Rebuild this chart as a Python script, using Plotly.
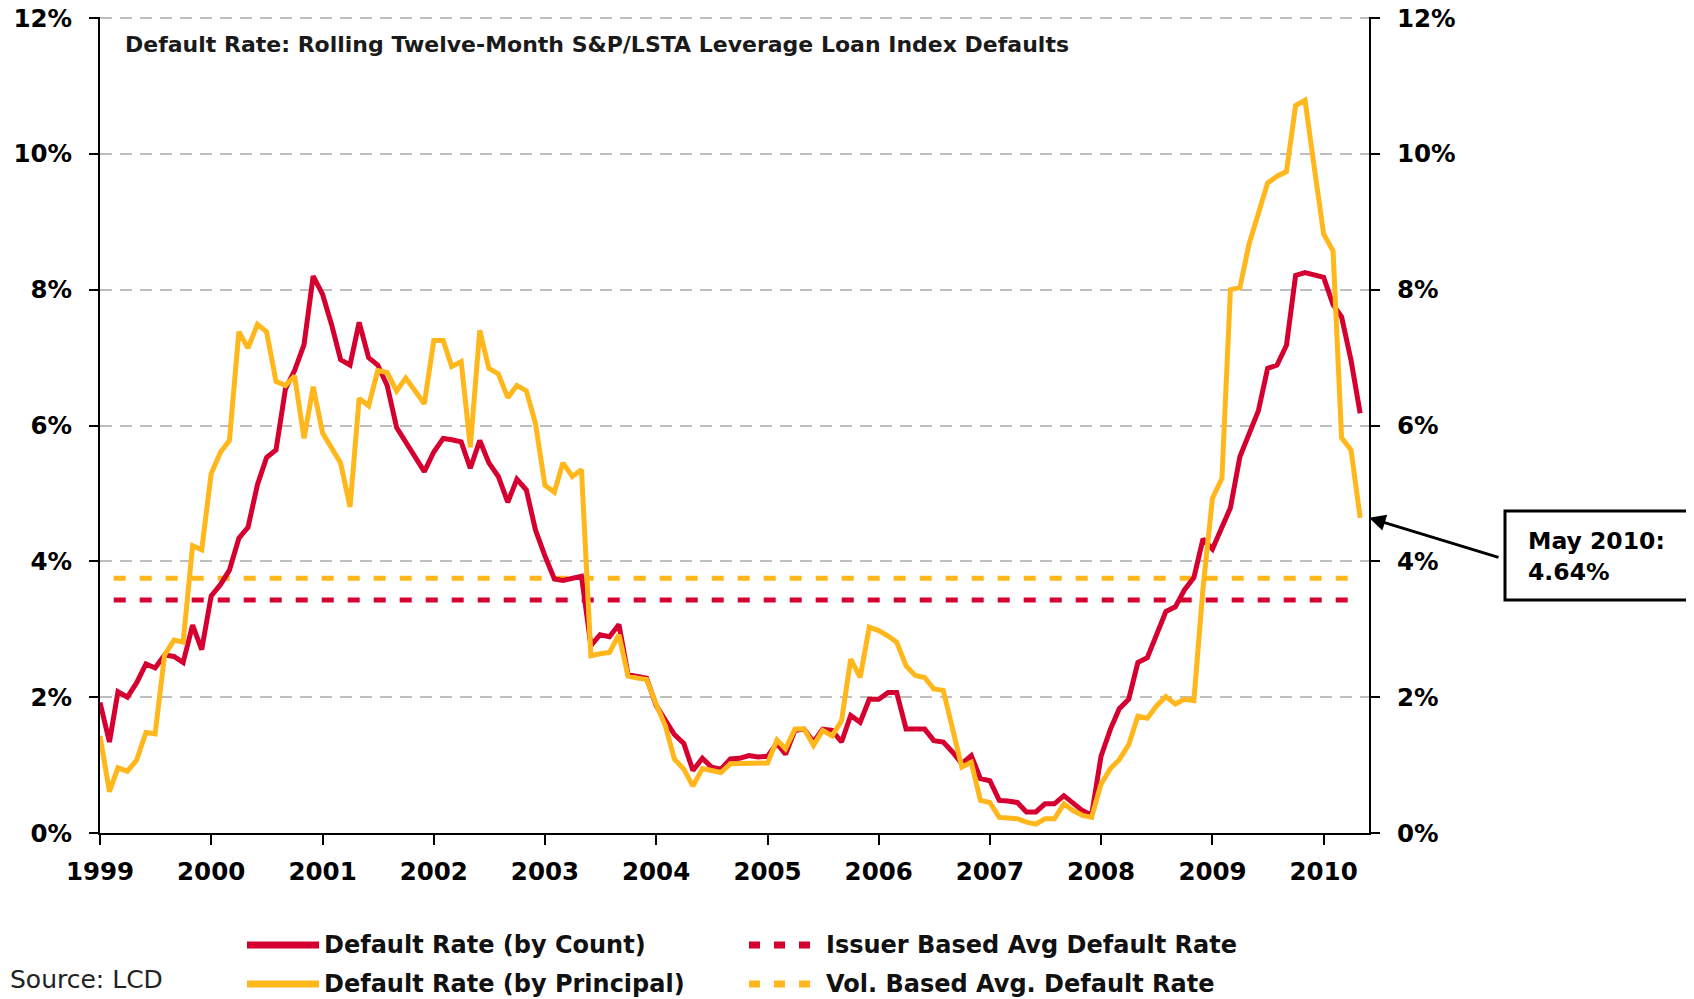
import pandas as pd
import plotly.graph_objects as go

# === Data: rolling 12-month default rates, Jan 1999 - May 2010 (%) ===
by_count = [
    1.92, 1.34, 2.08, 2.00, 2.21, 2.49, 2.43, 2.62, 2.60, 2.51, 3.06, 2.70,  # 1999
    3.49, 3.66, 3.87, 4.34, 4.50, 5.13, 5.53, 5.64, 6.54, 6.81, 7.19, 8.20,  # 2000
    7.93, 7.46, 6.97, 6.89, 7.52, 7.00, 6.89, 6.59, 5.97, 5.75, 5.51, 5.32,  # 2001
    5.61, 5.81, 5.79, 5.76, 5.37, 5.78, 5.45, 5.25, 4.87, 5.21, 5.05, 4.46,  # 2002
    4.08, 3.74, 3.72, 3.75, 3.78, 2.76, 2.92, 2.89, 3.07, 2.33, 2.31, 2.28,  # 2003
    1.88, 1.65, 1.45, 1.32, 0.92, 1.10, 0.97, 0.94, 1.09, 1.10, 1.14, 1.12,  # 2004
    1.13, 1.32, 1.16, 1.51, 1.53, 1.34, 1.53, 1.51, 1.34, 1.73, 1.63, 1.97,  # 2005
    1.97, 2.07, 2.07, 1.53, 1.53, 1.53, 1.36, 1.34, 1.19, 1.02, 1.14, 0.80,  # 2006
    0.77, 0.48, 0.47, 0.45, 0.31, 0.31, 0.43, 0.43, 0.55, 0.43, 0.33, 0.26,  # 2007
    1.13, 1.53, 1.83, 1.97, 2.51, 2.58, 2.90, 3.26, 3.33, 3.58, 3.76, 4.33,  # 2008
    4.18, 4.50, 4.79, 5.54, 5.86, 6.22, 6.84, 6.89, 7.18, 8.21, 8.25, 8.21,  # 2009
    8.18, 7.78, 7.60, 6.96, 6.18,                                            # 2010
]
by_principal = [
    1.43, 0.61, 0.96, 0.91, 1.07, 1.48, 1.46, 2.62, 2.84, 2.81, 4.23, 4.17,
    5.29, 5.61, 5.78, 7.38, 7.14, 7.49, 7.38, 6.65, 6.59, 6.73, 5.81, 6.57,
    5.89, 5.64, 5.45, 4.80, 6.40, 6.29, 6.81, 6.78, 6.51, 6.70, 6.51, 6.32,
    7.25, 7.25, 6.87, 6.94, 5.68, 7.40, 6.84, 6.76, 6.41, 6.59, 6.51, 6.03,
    5.12, 5.02, 5.45, 5.25, 5.35, 2.61, 2.64, 2.66, 2.92, 2.31, 2.28, 2.26,
    1.90, 1.57, 1.09, 0.94, 0.69, 0.95, 0.92, 0.89, 1.02, 1.02, 1.02, 1.02,
    1.03, 1.37, 1.24, 1.53, 1.53, 1.29, 1.51, 1.43, 1.65, 2.56, 2.29, 3.03,
    2.98, 2.90, 2.81, 2.46, 2.32, 2.29, 2.12, 2.10, 1.56, 0.97, 1.04, 0.48,
    0.45, 0.23, 0.22, 0.21, 0.16, 0.13, 0.21, 0.21, 0.43, 0.33, 0.26, 0.23,
    0.72, 0.95, 1.08, 1.30, 1.72, 1.69, 1.87, 2.01, 1.90, 1.97, 1.95, 3.61,
    4.93, 5.22, 8.00, 8.03, 8.67, 9.14, 9.57, 9.67, 9.74, 10.71, 10.79, 9.81,
    8.82, 8.57, 5.82, 5.64, 4.64,
]
months = pd.date_range('1999-01-01', periods=len(by_count), freq='MS')

issuer_avg = 3.43
volume_avg = 3.75
avg_span = ['1999-02-15', '2010-05-01']

last_label = 'May 2010:<br>4.64%'
last_value = 4.64

RED = '#D5002F'
GOLD = '#FFB71B'
GRID = '#BEBEBE'
FONT = 'DejaVu Sans'

# === Geometry ===
# page has an 8px body margin, so figure pixels = page pixels - 8
OFF = 8
W, H = 1686, 991
M_L, M_R, M_T, M_B = 92, 325, 9, 166
PW = W - M_L - M_R
PH = H - M_T - M_B


def px(x_page):
    return (x_page - OFF - M_L) / PW


def py(y_page):
    return (H - M_B - (y_page - OFF)) / PH


fig = go.Figure()

# === Average lines ===
fig.add_trace(go.Scatter(
    x=avg_span, y=[issuer_avg, issuer_avg], mode='lines',
    name='Issuer Based Avg Default Rate',
    line=dict(color=RED, width=5, dash='12px,14px'),
    showlegend=False, hoverinfo='skip'
))
fig.add_trace(go.Scatter(
    x=avg_span, y=[volume_avg, volume_avg], mode='lines',
    name='Vol. Based Avg. Default Rate',
    line=dict(color=GOLD, width=5, dash='12px,14px'),
    showlegend=False, hoverinfo='skip'
))

# === Main series ===
fig.add_trace(go.Scatter(
    x=months, y=by_count, mode='lines',
    name='Default Rate (by Count)',
    line=dict(color=RED, width=5),
    showlegend=False
))
# principal series sits on the right-hand (mirrored) axis
fig.add_trace(go.Scatter(
    x=months, y=by_principal, mode='lines',
    name='Default Rate (by Principal)',
    line=dict(color=GOLD, width=5),
    showlegend=False, yaxis='y2'
))

Y_RANGE = [0, 12.015]
tick_font = dict(family=FONT, size=24.5, color='black', weight='bold')
yaxis_common = dict(
    range=Y_RANGE, dtick=2, tick0=0, ticksuffix='%',
    ticks='outside', ticklen=9, tickwidth=2, tickcolor='black',
    showline=True, linecolor='black', linewidth=2,
    zeroline=False, tickfont=tick_font, ticklabelstandoff=12,
    ticklabeloverflow='allow', automargin=False, fixedrange=True
)

fig.update_layout(
    width=W, height=H,
    margin=dict(l=M_L, r=M_R, t=M_T, b=M_B, autoexpand=False),
    paper_bgcolor='white',
    plot_bgcolor='white',
    showlegend=False,
    xaxis=dict(
        type='date', range=['1999-01-01', '2010-05-30'],
        tick0='1999-01-01', dtick='M12', tickformat='%Y',
        ticks='outside', ticklen=10, tickwidth=2, tickcolor='black',
        showline=True, linecolor='black', linewidth=2,
        showgrid=False, zeroline=False, tickfont=tick_font,
        ticklabelstandoff=6, automargin=False
    ),
    yaxis=dict(
        showgrid=True, gridcolor=GRID, gridwidth=2, griddash='12px,8px',
        **yaxis_common
    ),
    yaxis2=dict(
        overlaying='y', side='right', anchor='x', showgrid=False,
        **yaxis_common
    ),
)

# top (12%) gridline, which plotly skips at the plot edge
fig.add_hline(y=12, line=dict(color=GRID, width=2, dash='12px,8px'), layer='below')

# === Title inside plot ===
fig.add_annotation(
    x=px(123), y=py(45), xref='paper', yref='paper',
    xanchor='left', yanchor='middle', showarrow=False,
    text='Default Rate: Rolling Twelve-Month S&P/LSTA Leverage Loan Index Defaults',
    font=dict(family=FONT, size=22, color='#1a1a1a', weight='bold')
)

# === Callout for the last value ===
fig.add_shape(
    type='rect', xref='paper', yref='paper',
    x0=px(1505), x1=px(1720), y0=py(600), y1=py(511),
    line=dict(color='black', width=3), fillcolor='white'
)
fig.add_annotation(
    x=px(1526), y=py(556), xref='paper', yref='paper',
    xanchor='left', yanchor='middle', align='left', showarrow=False,
    text=last_label,
    font=dict(family=FONT, size=23.5, color='black', weight='bold')
)
fig.add_annotation(
    x=1.0, y=last_value, xref='paper', yref='y',
    text='', showarrow=True, arrowhead=2, arrowsize=1.1, arrowwidth=3,
    arrowcolor='black', ax=131, ay=40, standoff=0
)

# === Custom legend ===
legend_rows = [
    (945, RED, 'Default Rate (by Count)', 'Issuer Based Avg Default Rate'),
    (984, GOLD, 'Default Rate (by Principal)', 'Vol. Based Avg. Default Rate'),
]
legend_font = dict(family=FONT, size=24, color='#111111', weight='bold')
for y_px, color, solid_label, dotted_label in legend_rows:
    fig.add_shape(
        type='line', xref='paper', yref='paper',
        x0=px(247), x1=px(319), y0=py(y_px), y1=py(y_px),
        line=dict(color=color, width=7)
    )
    fig.add_shape(
        type='line', xref='paper', yref='paper',
        x0=px(749), x1=px(812), y0=py(y_px), y1=py(y_px),
        line=dict(color=color, width=7, dash='11px,14px')
    )
    fig.add_annotation(
        x=px(322), y=py(y_px), xref='paper', yref='paper',
        xanchor='left', yanchor='middle', showarrow=False,
        text=solid_label, font=legend_font
    )
    fig.add_annotation(
        x=px(824), y=py(y_px), xref='paper', yref='paper',
        xanchor='left', yanchor='middle', showarrow=False,
        text=dotted_label, font=legend_font
    )

# === Source note ===
fig.add_annotation(
    x=px(OFF), y=py(979), xref='paper', yref='paper',
    xanchor='left', yanchor='middle', showarrow=False,
    text='Source: LCD',
    font=dict(family=FONT, size=25, color='#222222')
)

fig.write_html('out.html')
